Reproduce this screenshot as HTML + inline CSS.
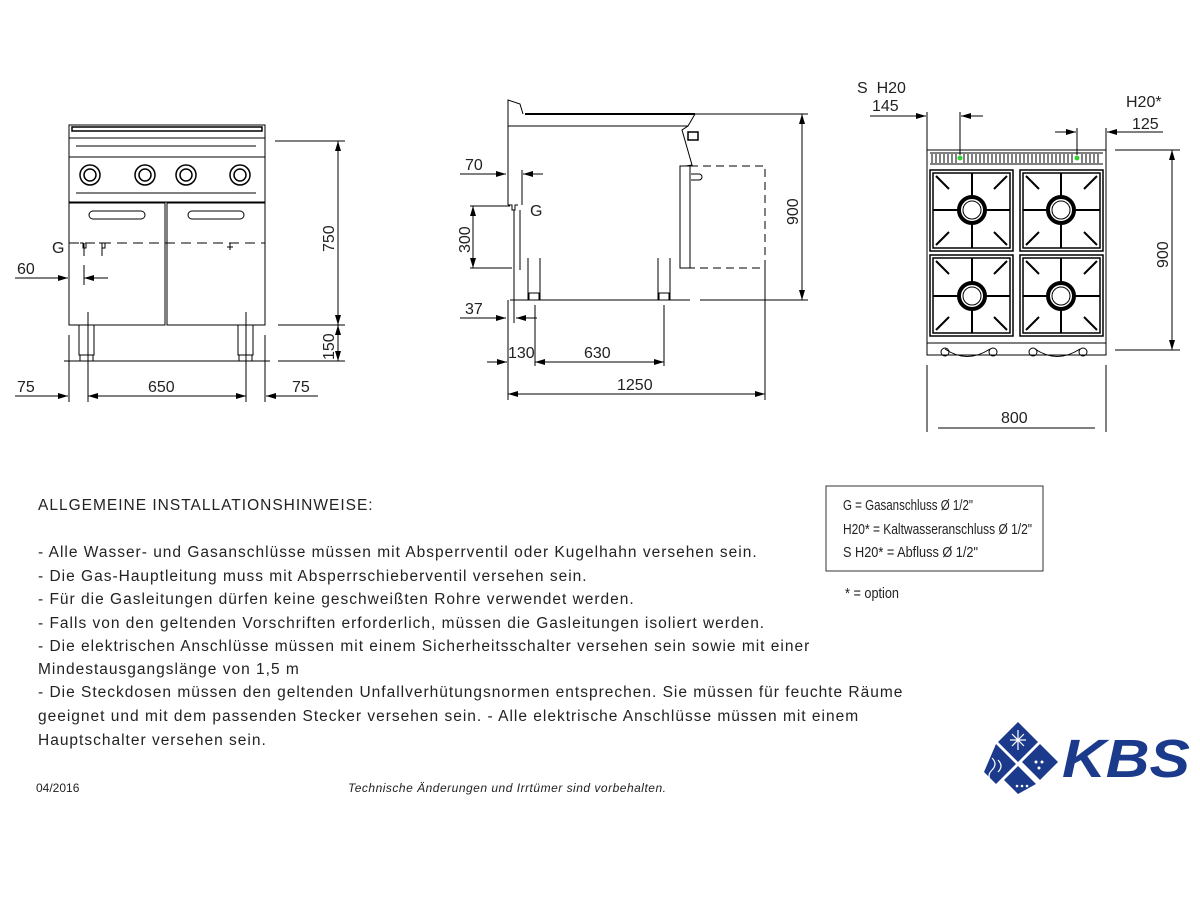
<!DOCTYPE html>
<html><head><meta charset="utf-8"><style>
html,body{margin:0;padding:0;background:#fff;}
svg{display:block;}
.t{font-family:"Liberation Sans",sans-serif;fill:#222;}
</style></head><body>
<svg width="1200" height="900" viewBox="0 0 1200 900" xmlns="http://www.w3.org/2000/svg">
<defs>
<marker id="a" viewBox="0 0 10 6" refX="10" refY="3" markerWidth="10" markerHeight="6" orient="auto-start-reverse" markerUnits="userSpaceOnUse"><path d="M0,0 L10,3 L0,6z" fill="#000"/></marker>
</defs>
<g stroke="#000" stroke-width="1" fill="none">
<!-- FRONT VIEW -->
<rect x="69" y="125" width="196" height="32"/>
<line x1="69" y1="138" x2="265" y2="138"/>
<path d="M72 127 h190 v4 h-190z" stroke-width="1.5"/>
<line x1="76" y1="146" x2="256" y2="146"/>
<rect x="69" y="157" width="196" height="45"/>
<line x1="76" y1="193" x2="256" y2="193"/>
<g stroke-width="1.5">
<circle cx="90" cy="175" r="10"/><circle cx="90" cy="175" r="6"/>
<circle cx="145" cy="175" r="10"/><circle cx="145" cy="175" r="6"/>
<circle cx="186" cy="175" r="10"/><circle cx="186" cy="175" r="6"/>
<circle cx="240" cy="175" r="10"/><circle cx="240" cy="175" r="6"/>
</g>
<rect x="69" y="203" width="96" height="122"/>
<rect x="167" y="203" width="98" height="122"/>
<rect x="89" y="211" width="56" height="8" rx="4"/>
<rect x="188" y="211" width="56" height="8" rx="4"/>
<line x1="69" y1="243" x2="265" y2="243" stroke-dasharray="10,6"/>
<path d="M80 243 h3 v5 h3 v-5 M99 243 h3 v5 h3 v-5 M230 243 v7 M227 247 h6"/>
<line x1="84" y1="243" x2="84" y2="256"/><line x1="102" y1="243" x2="102" y2="256"/>
<rect x="79" y="325" width="15" height="30"/><rect x="80" y="355" width="13" height="6"/>
<rect x="238" y="325" width="15" height="30"/><rect x="239" y="355" width="13" height="6"/>
<line x1="64" y1="361" x2="270" y2="361"/>
<line x1="84" y1="265" x2="84" y2="285"/>
<line x1="15" y1="278" x2="68" y2="278" marker-end="url(#a)"/>
<line x1="108" y1="278" x2="84" y2="278" marker-end="url(#a)"/>
<line x1="275" y1="141" x2="345" y2="141"/>
<line x1="278" y1="325" x2="345" y2="325"/>
<line x1="278" y1="361" x2="345" y2="361"/>
<line x1="338" y1="141" x2="338" y2="325" marker-start="url(#a)" marker-end="url(#a)"/>
<line x1="338" y1="325" x2="338" y2="361" marker-start="url(#a)" marker-end="url(#a)"/>
<line x1="69" y1="335" x2="69" y2="402"/><line x1="88" y1="312" x2="88" y2="402"/>
<line x1="246" y1="312" x2="246" y2="402"/><line x1="265" y1="335" x2="265" y2="402"/>
<line x1="15" y1="396" x2="68" y2="396" marker-end="url(#a)"/>
<line x1="88" y1="396" x2="246" y2="396" marker-start="url(#a)" marker-end="url(#a)"/>
<line x1="318" y1="396" x2="266" y2="396" marker-end="url(#a)"/>

<!-- SIDE VIEW -->
<path d="M508 126 V100 L520 104 L523 114"/>
<line x1="508" y1="126" x2="688" y2="126"/>
<line x1="525" y1="114" x2="695" y2="114" stroke-width="2"/>
<path d="M695 114 L688 126 L682 130 L692 165 L686 166"/>
<rect x="688" y="132" width="10" height="8" stroke-width="1.5"/>
<line x1="508" y1="126" x2="508" y2="205"/>
<path d="M508 205 h4 v5 h3 v-5 h3"/>
<line x1="514" y1="210" x2="514" y2="323"/><line x1="520" y1="210" x2="520" y2="270"/>
<line x1="522" y1="170" x2="522" y2="205"/>
<rect x="680" y="166" width="10" height="102"/>
<path d="M690 166 H765 V268 H690" stroke-dasharray="8,5"/>
<path d="M691 174 h8 a3 3 0 0 1 0 6 h-8"/>
<path d="M528 258 v42 M540 258 v42 M658 258 v42 M670 258 v42"/>
<rect x="529" y="293" width="10" height="7"/><rect x="659" y="293" width="10" height="7"/>
<line x1="510" y1="300" x2="690" y2="300"/><line x1="700" y1="300" x2="808" y2="300"/>
<line x1="695" y1="114" x2="808" y2="114"/>
<line x1="802" y1="114" x2="802" y2="300" marker-start="url(#a)" marker-end="url(#a)"/>
<line x1="460" y1="174" x2="506" y2="174" marker-end="url(#a)"/>
<line x1="543" y1="174" x2="523" y2="174" marker-end="url(#a)"/>
<line x1="470" y1="206" x2="510" y2="206"/><line x1="470" y1="268" x2="512" y2="268"/>
<line x1="473" y1="206" x2="473" y2="268" marker-start="url(#a)" marker-end="url(#a)"/>
<line x1="460" y1="318" x2="506" y2="318" marker-end="url(#a)"/>
<line x1="537" y1="318" x2="516" y2="318" marker-end="url(#a)"/>
<line x1="508" y1="300" x2="508" y2="400"/><line x1="535" y1="305" x2="535" y2="366"/>
<line x1="664" y1="305" x2="664" y2="366"/><line x1="765" y1="268" x2="765" y2="400"/>
<line x1="487" y1="362" x2="507" y2="362" marker-end="url(#a)"/>
<line x1="535" y1="362" x2="664" y2="362" marker-start="url(#a)" marker-end="url(#a)"/>
<line x1="508" y1="394" x2="765" y2="394" marker-start="url(#a)" marker-end="url(#a)"/>

<!-- TOP VIEW -->
<rect x="927" y="150" width="179" height="205"/>
<line x1="930" y1="153" x2="1103" y2="153"/><line x1="930" y1="164" x2="1103" y2="164"/>
<path d="M932 154 v9 M936 154 v9 M940 154 v9 M944 154 v9 M948 154 v9 M952 154 v9 M956 154 v9 M964 154 v9 M968 154 v9 M972 154 v9 M976 154 v9 M980 154 v9 M984 154 v9 M988 154 v9 M992 154 v9 M996 154 v9 M1000 154 v9 M1004 154 v9 M1008 154 v9 M1012 154 v9 M1016 154 v9 M1020 154 v9 M1024 154 v9 M1028 154 v9 M1032 154 v9 M1036 154 v9 M1040 154 v9 M1044 154 v9 M1048 154 v9 M1052 154 v9 M1056 154 v9 M1060 154 v9 M1064 154 v9 M1068 154 v9 M1072 154 v9 M1082 154 v9 M1086 154 v9 M1090 154 v9 M1094 154 v9 M1098 154 v9"/>
<g stroke-width="1.5">
<rect x="930" y="170" width="83" height="81"/><rect x="1020" y="170" width="83" height="81"/>
<rect x="930" y="255" width="83" height="81"/><rect x="1020" y="255" width="83" height="81"/>
<rect x="933" y="173" width="77" height="75"/><rect x="1023" y="173" width="77" height="75"/>
<rect x="933" y="258" width="77" height="75"/><rect x="1023" y="258" width="77" height="75"/>
</g>
<g stroke-width="2">
<path d="M972 173 v75 M933 210 h77 M1061 173 v75 M1023 210 h77 M972 258 v75 M933 296 h77 M1061 258 v75 M1023 296 h77"/>
<path d="M936 176 l13 13 M1007 176 l-13 13 M936 245 l13 -13 M1007 245 l-13 -13 M1026 176 l13 13 M1097 176 l-13 13 M1026 245 l13 -13 M1097 245 l-13 -13"/>
<path d="M936 261 l13 13 M1007 261 l-13 13 M936 330 l13 -13 M1007 330 l-13 -13 M1026 261 l13 13 M1097 261 l-13 13 M1026 330 l13 -13 M1097 330 l-13 -13"/>
</g>
<g fill="#fff">
<circle cx="972" cy="210" r="13" stroke-width="4"/><circle cx="1061" cy="210" r="13" stroke-width="4"/>
<circle cx="972" cy="296" r="13" stroke-width="4"/><circle cx="1061" cy="296" r="13" stroke-width="4"/>
<circle cx="972" cy="210" r="9"/><circle cx="1061" cy="210" r="9"/>
<circle cx="972" cy="296" r="9"/><circle cx="1061" cy="296" r="9"/>
</g>
<line x1="927" y1="343" x2="1106" y2="343"/>
<path d="M945 349 q22 15 45 0 M1035 349 q22 15 45 0"/>
<circle cx="945" cy="352" r="4"/><circle cx="993" cy="352" r="4"/><circle cx="1033" cy="352" r="4"/><circle cx="1083" cy="352" r="4"/>
<line x1="927" y1="112" x2="927" y2="150"/><line x1="960" y1="112" x2="960" y2="155"/>
<line x1="870" y1="116" x2="926" y2="116" marker-end="url(#a)"/>
<line x1="983" y1="116" x2="961" y2="116" marker-end="url(#a)"/>
<line x1="1077" y1="128" x2="1077" y2="155"/><line x1="1106" y1="128" x2="1106" y2="150"/>
<line x1="1055" y1="132" x2="1076" y2="132" marker-end="url(#a)"/>
<line x1="1163" y1="132" x2="1107" y2="132" marker-end="url(#a)"/>
<line x1="1115" y1="150" x2="1180" y2="150"/><line x1="1115" y1="350" x2="1180" y2="350"/>
<line x1="1172" y1="150" x2="1172" y2="350" marker-start="url(#a)" marker-end="url(#a)"/>
<line x1="927" y1="365" x2="927" y2="432"/><line x1="1106" y1="365" x2="1106" y2="432"/>
<line x1="938" y1="428" x2="1095" y2="428"/>
</g>
<circle cx="960" cy="158" r="2.5" fill="#3c3"/><circle cx="1077" cy="158" r="2.5" fill="#3c3"/>

<g class="t" font-size="16">
<text x="52" y="253">G</text>
<text x="17" y="274">60</text>
<text x="17" y="392">75</text>
<text x="148" y="392">650</text>
<text x="292" y="392">75</text>
<text transform="translate(334,252) rotate(-90)">750</text>
<text transform="translate(334,360) rotate(-90)">150</text>
<text x="465" y="170">70</text>
<text x="530" y="216">G</text>
<text transform="translate(470,253) rotate(-90)">300</text>
<text x="465" y="314">37</text>
<text x="508" y="358">130</text>
<text x="584" y="358">630</text>
<text x="617" y="390">1250</text>
<text transform="translate(798,225) rotate(-90)">900</text>
<text x="857" y="93">S&#160;&#160;H20</text>
<text x="872" y="111">145</text>
<text x="1126" y="107">H20*</text>
<text x="1132" y="129">125</text>
<text transform="translate(1168,268) rotate(-90)">900</text>
<text x="1001" y="423">800</text>
</g>

<g class="t" font-size="15.5" fill="#333" letter-spacing="1">
<text x="38" y="510">ALLGEMEINE INSTALLATIONSHINWEISE:</text>
<text x="38" y="557">- Alle Wasser- und Gasanschlüsse müssen mit Absperrventil oder Kugelhahn versehen sein.</text>
<text x="38" y="581">- Die Gas-Hauptleitung muss mit Absperrschieberventil versehen sein.</text>
<text x="38" y="604">- Für die Gasleitungen dürfen keine geschweißten Rohre verwendet werden.</text>
<text x="38" y="628">- Falls von den geltenden Vorschriften erforderlich, müssen die Gasleitungen isoliert werden.</text>
<text x="38" y="651">- Die elektrischen Anschlüsse müssen mit einem Sicherheitsschalter versehen sein sowie mit einer</text>
<text x="38" y="674">Mindestausgangslänge von 1,5 m</text>
<text x="38" y="697">- Die Steckdosen müssen den geltenden Unfallverhütungsnormen entsprechen. Sie müssen für feuchte Räume</text>
<text x="38" y="721">geeignet und mit dem passenden Stecker versehen sein. - Alle elektrische Anschlüsse müssen mit einem</text>
<text x="38" y="745">Hauptschalter versehen sein.</text>
</g>
<rect x="826" y="486" width="217" height="85" fill="none" stroke="#333"/>
<g class="t" font-size="15" fill="#111">
<text x="843" y="510" textLength="130" lengthAdjust="spacingAndGlyphs">G = Gasanschluss Ø 1/2"</text>
<text x="843" y="534" textLength="189" lengthAdjust="spacingAndGlyphs">H20* = Kaltwasseranschluss Ø 1/2"</text>
<text x="843" y="557" textLength="135" lengthAdjust="spacingAndGlyphs">S H20* = Abfluss Ø 1/2"</text>
<text x="845" y="598" textLength="54" lengthAdjust="spacingAndGlyphs">* = option</text>
</g>
<text class="t" x="36" y="792" font-size="12" fill="#444">04/2016</text>
<text class="t" x="348" y="792" font-size="12" font-style="italic" fill="#444" textLength="318" lengthAdjust="spacing">Technische Änderungen und Irrtümer sind vorbehalten.</text>

<!-- KBS logo -->
<g fill="#1b3a8c">
<path d="M1018 722 L1038 742 L1018 762 L998 742z"/>
<path d="M1040 744 L1058 762 L1040 780 L1022 762z"/>
<path d="M996 744 L1016 764 L996 784 L984 772z"/>
<path d="M1018 766 L1036 784 L1018 794 L1004 780z"/>
</g>
<g stroke="#fff" stroke-width="1.2" fill="none">
<path d="M1018 730 v20 M1010 740 h16 M1012 734 l12 12 M1024 734 l-12 12"/>
<path d="M992 758 q6 6 0 12 q-6 6 0 12 M998 760 q6 6 0 12"/>
</g>
<g fill="#fff"><circle cx="1036" cy="762" r="1.5"/><circle cx="1042" cy="762" r="1.5"/><circle cx="1039" cy="768" r="1.5"/><circle cx="1017" cy="786" r="1.3"/><circle cx="1022" cy="786" r="1.3"/><circle cx="1027" cy="786" r="1.3"/></g>
<text x="1062" y="777" font-family="Liberation Sans, sans-serif" font-weight="bold" font-style="italic" font-size="54" fill="#1b3a8c" textLength="128" lengthAdjust="spacingAndGlyphs">KBS</text>
</svg>
</body></html>
